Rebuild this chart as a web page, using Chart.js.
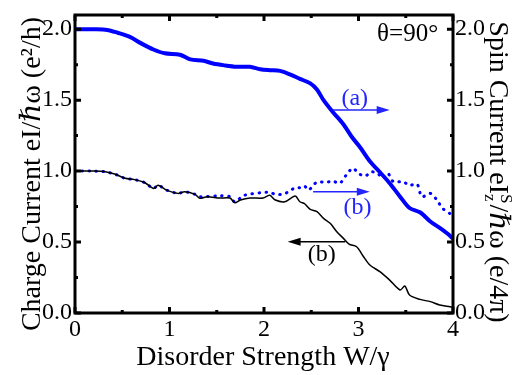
<!DOCTYPE html>
<html><head><meta charset="utf-8">
<script src="https://cdn.jsdelivr.net/npm/chart.js@4"></script>
<style>html,body{margin:0;padding:0;background:#fff;font-family:"Liberation Serif",serif}#wrap{width:528px;height:375px}</style>
</head><body><div id="wrap"><canvas id="c" width="528" height="375"></canvas></div>
<script>
const xTicks = [0, 1, 2, 3, 4];
const yTicks = [0.0, 0.5, 1.0, 1.5, 2.0];

// (a) spin current, thick blue (right axis)
const spinA_W = [0, 0.1, 0.2, 0.34, 0.45, 0.58, 0.7, 0.83, 0.95, 1.11, 1.22, 1.36, 1.46, 1.58, 1.71, 1.85, 1.96, 2.06, 2.17, 2.28, 2.38, 2.49, 2.56, 2.63, 2.73, 2.84, 2.93, 3.02, 3.12, 3.23, 3.33, 3.44, 3.54, 3.65, 3.76, 3.86, 3.94, 4.0];
const spinA   = [2.0, 2.0, 2.0, 1.995, 1.975, 1.946, 1.9, 1.857, 1.83, 1.82, 1.787, 1.777, 1.758, 1.745, 1.735, 1.735, 1.718, 1.711, 1.706, 1.68, 1.65, 1.618, 1.575, 1.50, 1.415, 1.33, 1.24, 1.165, 1.07, 0.99, 0.915, 0.82, 0.74, 0.71, 0.645, 0.60, 0.56, 0.525];

// (b) charge current, thin black (left axis)
const chargeB_W = [0, 0.2, 0.32, 0.42, 0.53, 0.63, 0.74, 0.83, 0.88, 0.97, 1.09, 1.16, 1.27, 1.32, 1.4, 1.53, 1.64, 1.69, 1.75, 1.85, 1.99, 2.06, 2.12, 2.22, 2.33, 2.38, 2.43, 2.49, 2.56, 2.63, 2.70, 2.77, 2.84, 2.90, 2.98, 3.05, 3.12, 3.23, 3.33, 3.44, 3.49, 3.54, 3.65, 3.76, 3.86, 3.97, 4.0];
const chargeB   = [1.0, 1.0, 0.995, 0.979, 0.949, 0.94, 0.918, 0.878, 0.90, 0.866, 0.843, 0.854, 0.836, 0.808, 0.82, 0.81, 0.81, 0.777, 0.796, 0.81, 0.81, 0.83, 0.796, 0.784, 0.824, 0.784, 0.77, 0.73, 0.715, 0.667, 0.632, 0.573, 0.526, 0.485, 0.467, 0.40, 0.338, 0.29, 0.232, 0.162, 0.19, 0.127, 0.096, 0.08, 0.056, 0.044, 0.04];

// (b) spin current, blue dotted (right axis)
const spinB_W = [0, 0.2, 0.32, 0.42, 0.53, 0.63, 0.74, 0.83, 0.88, 0.97, 1.09, 1.16, 1.27, 1.32, 1.53, 1.64, 1.69, 1.78, 1.85, 1.96, 2.06, 2.12, 2.19, 2.26, 2.33, 2.40, 2.43, 2.47, 2.54, 2.58, 2.65, 2.73, 2.80, 2.87, 2.94, 3.0, 3.07, 3.14, 3.21, 3.26, 3.31, 3.37, 3.47, 3.54, 3.62, 3.67, 3.76, 3.83, 3.89, 3.97, 4.0];
const spinB   = [1.0, 1.0, 0.995, 0.979, 0.949, 0.94, 0.918, 0.878, 0.90, 0.866, 0.843, 0.854, 0.836, 0.82, 0.826, 0.82, 0.784, 0.826, 0.838, 0.847, 0.85, 0.836, 0.836, 0.854, 0.883, 0.883, 0.894, 0.866, 0.913, 0.925, 0.92, 0.93, 0.913, 0.972, 1.02, 0.984, 0.965, 0.995, 0.979, 0.949, 0.984, 0.925, 0.925, 0.90, 0.908, 0.82, 0.843, 0.796, 0.737, 0.70, 0.69];

const pts = (xs, ys) => xs.map((x, i) => ({ x: x, y: ys[i] }));
const SERIF = '"Liberation Serif", "DejaVu Serif", serif';
const BLUE = '#0000ff';
const TBLUE = '#2424ff';

const decor = {
  id: 'decor',
  afterDraw(chart) {
    const ctx = chart.ctx, a = chart.chartArea;
    const sx = chart.scales.x, sy = chart.scales.y;
    ctx.save();
    ctx.strokeStyle = '#000';
    ctx.lineWidth = 3;
    for (let v = 0; v <= 4.0001; v += 0.5) {
      const px = sx.getPixelForValue(v);
      const len = Math.abs(v - Math.round(v)) < 1e-6 ? 6 : 3;
      ctx.beginPath();
      ctx.moveTo(px, a.bottom); ctx.lineTo(px, a.bottom - len);
      ctx.moveTo(px, a.top); ctx.lineTo(px, a.top + len);
      ctx.stroke();
    }
    for (let v = 0; v <= 2.0001; v += 0.25) {
      const py = sy.getPixelForValue(v);
      const len = Math.abs(v * 2 - Math.round(v * 2)) < 1e-6 ? 6 : 3;
      ctx.beginPath();
      ctx.moveTo(a.left, py); ctx.lineTo(a.left + len, py);
      ctx.moveTo(a.right, py); ctx.lineTo(a.right - len, py);
      ctx.stroke();
    }
    ctx.lineWidth = 3;
    ctx.strokeRect(a.left, a.top, a.right - a.left, a.bottom - a.top);

    function arrow(x1, x2, yv, color) {
      const p1 = sx.getPixelForValue(x1), p2 = sx.getPixelForValue(x2), py = sy.getPixelForValue(yv);
      const dir = p2 > p1 ? 1 : -1;
      ctx.strokeStyle = color; ctx.fillStyle = color; ctx.lineWidth = 1.5;
      ctx.beginPath(); ctx.moveTo(p1, py); ctx.lineTo(p2 - dir * 10, py); ctx.stroke();
      ctx.beginPath(); ctx.moveTo(p2, py); ctx.lineTo(p2 - dir * 13, py - 4); ctx.lineTo(p2 - dir * 13, py + 4); ctx.closePath(); ctx.fill();
    }
    function label(txt, xv, yv, color, size, align) {
      ctx.fillStyle = color;
      ctx.font = size + 'px ' + SERIF;
      ctx.textAlign = align || 'center';
      ctx.textBaseline = 'middle';
      ctx.fillText(txt, sx.getPixelForValue(xv), sy.getPixelForValue(yv));
    }
    arrow(2.73, 3.33, 1.43, TBLUE);
    label('(a)', 2.96, 1.51, TBLUE, 24);
    arrow(2.52, 3.12, 0.855, TBLUE);
    label('(b)', 2.99, 0.74, TBLUE, 24);
    arrow(2.86, 2.25, 0.502, '#000');
    label('(b)', 2.61, 0.41, '#000', 24);
    label('θ=90°', 3.52, 1.96, '#000', 25);

    ctx.fillStyle = '#000';
    ctx.font = '28px ' + SERIF;
    ctx.textAlign = 'center';
    ctx.textBaseline = 'alphabetic';
    ctx.fillText('Disorder Strength W/γ', 263, 365);
    ctx.save();
    ctx.translate(40, 174);
    ctx.rotate(-Math.PI / 2);
    ctx.fillText('Charge Current eI/ℏω (e²/h)', 0, 0);
    ctx.restore();
    ctx.save();
    ctx.translate(490, 172);
    ctx.rotate(Math.PI / 2);
    ctx.textAlign = 'left';
    const big = '28px ' + SERIF, small = '17px ' + SERIF;
    const p1 = 'Spin Current eI', p4 = '/ℏω (e/4π)';
    ctx.font = big; const w1 = ctx.measureText(p1).width, w4 = ctx.measureText(p4).width;
    ctx.font = small; const w2 = Math.max(ctx.measureText('S').width, ctx.measureText('z').width);
    const total = w1 + w2 + 1 + w4;
    let cx = -total / 2;
    ctx.font = big; ctx.fillText(p1, cx, 0); cx += w1;
    ctx.font = small; ctx.fillText('S', cx, -11); ctx.fillText('z', cx, 5); cx += w2 + 1;
    ctx.font = big; ctx.fillText(p4, cx, 0);
    ctx.restore();
    ctx.restore();
  }
};

function draw() {
  const tickFont = { family: SERIF, size: 24, lineHeight: 1 };
  new Chart(document.getElementById('c'), {
    type: 'line',
    data: {
      datasets: [
        { label: 'charge (b)', data: pts(chargeB_W, chargeB), yAxisID: 'y', borderColor: '#000', borderWidth: 1.5, pointRadius: 0, tension: 0.3, fill: false },
        { label: 'spin (b)', data: pts(spinB_W, spinB), yAxisID: 'y2', borderColor: BLUE, borderWidth: 3, borderDash: [0.5, 6.5], borderCapStyle: 'round', pointRadius: 0, tension: 0.3, fill: false },
        { label: 'spin (a)', data: pts(spinA_W, spinA), yAxisID: 'y2', borderColor: BLUE, borderWidth: 4, pointRadius: 0, tension: 0.3, fill: false }
      ]
    },
    options: {
      responsive: false,
      animation: false,
      devicePixelRatio: 1,
      layout: { padding: { top: 15, left: 0, right: 0, bottom: 0 } },
      plugins: { legend: { display: false }, tooltip: { enabled: false } },
      scales: {
        x: {
          type: 'linear', min: 0, max: 4,
          afterBuildTicks: s => { s.ticks = xTicks.map(v => ({ value: v })); },
          afterFit: s => { s.height = 62; },
          grid: { display: false, drawTicks: false },
          border: { display: false },
          ticks: { font: tickFont, color: '#000', padding: 5, maxRotation: 0, callback: v => String(v) }
        },
        y: {
          position: 'left', min: 0, max: 2.1,
          afterBuildTicks: s => { s.ticks = yTicks.map(v => ({ value: v })); },
          afterFit: s => { s.width = 75; },
          grid: { display: false, drawTicks: false },
          border: { display: false },
          ticks: { font: tickFont, color: '#000', padding: 3, callback: v => Number(v).toFixed(1) }
        },
        y2: {
          position: 'right', min: 0, max: 2.1,
          afterBuildTicks: s => { s.ticks = yTicks.map(v => ({ value: v })); },
          afterFit: s => { s.width = 75; },
          grid: { display: false, drawTicks: false },
          border: { display: false },
          ticks: { font: tickFont, color: '#000', padding: 2, callback: v => Number(v).toFixed(1) }
        }
      }
    },
    plugins: [decor]
  });
}
if (document.fonts && document.fonts.load) {
  Promise.all([
    document.fonts.load('24px "Liberation Serif"'),
    document.fonts.load('28px "Liberation Serif"')
  ]).then(draw, draw);
} else { draw(); }
</script>
</body></html>
